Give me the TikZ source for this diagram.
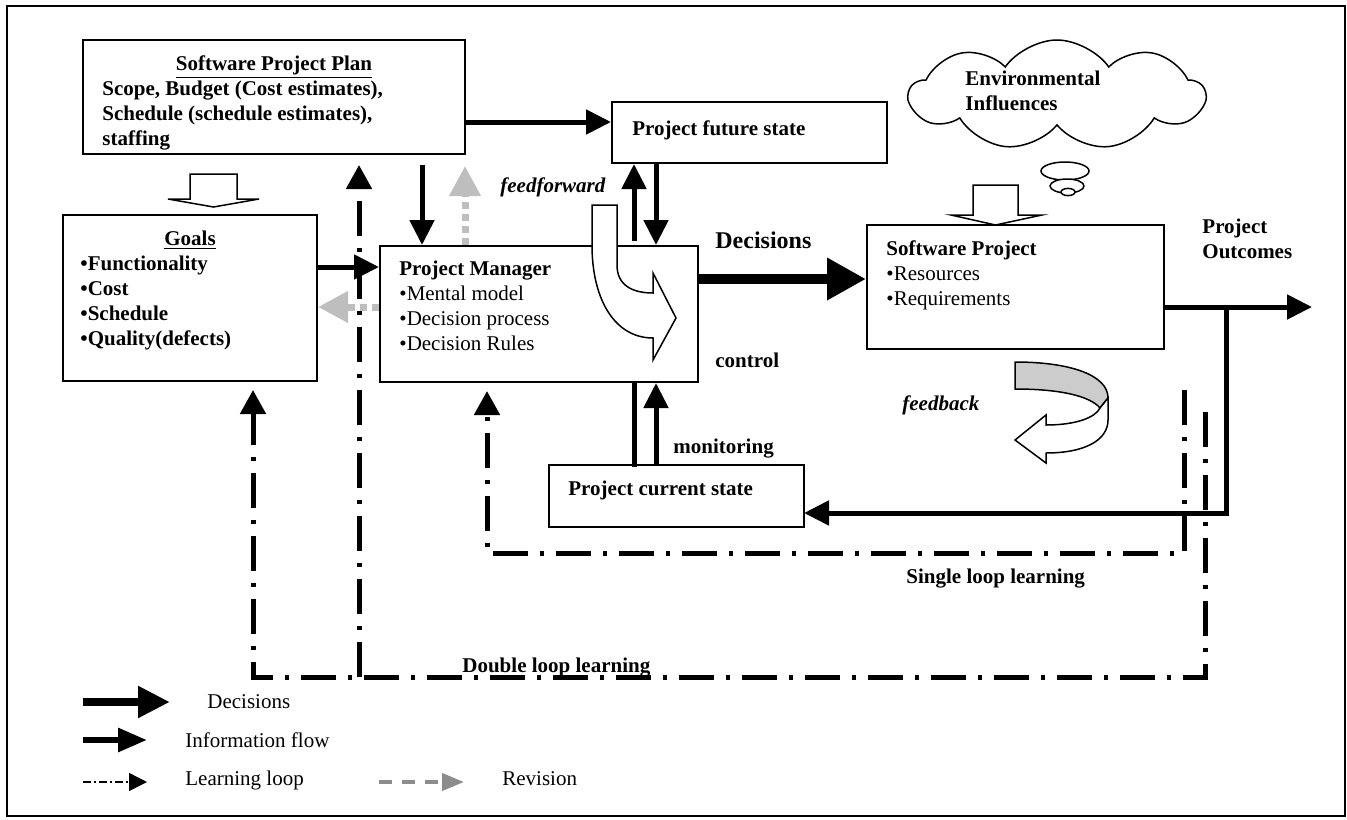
\documentclass[tikz,border=0pt]{standalone}
\usepackage{fontspec}
\setmainfont{Liberation Serif}
\usepackage{tikz}
\usetikzlibrary{arrows.meta,shapes.symbols,positioning}
\definecolor{revgray}{RGB}{190,190,190}
\definecolor{keygray}{RGB}{140,140,140}
\definecolor{foldgray}{RGB}{204,204,204}

\tikzset{
  box/.style={rectangle, draw, line width=1pt, inner sep=0pt},
  txt/.style={anchor=base west, inner sep=0pt, align=left},
  bold/.style={font=\fontsize{10.5}{12.5}\selectfont\bfseries},
  boldit/.style={font=\fontsize{10.5}{12.5}\selectfont\bfseries\itshape},
  info/.style={line width=2.5pt, -{Triangle[length=12.5pt,width=12pt]}},
  decide/.style={line width=5pt, -{Triangle[length=19.5pt,width=20pt]}},
  learn/.style={line width=2.5pt, dash pattern=on 17.5pt off 6pt on 2pt off 6pt, -{Triangle[length=12pt,width=12.5pt]}},
  revise/.style={line width=3.5pt, revgray, dash pattern=on 3.5pt off 2.5pt, -{Triangle[length=15pt,width=15pt]}},
  hollow/.style={draw, fill=white, line width=0.75pt, line join=miter},
}

\begin{document}
\begin{tikzpicture}[x=0.5pt, y=-0.5pt, every node/.style={font=\fontsize{10.5}{12.5}\selectfont}]
\useasboundingbox (0,0) rectangle (1347,819);
\draw[line width=1pt] (7,6) rectangle (1345,816);

% boxes
\node (plan) [box, minimum width=191pt, minimum height=57pt] at (274,97) {};
\node (goals) [box, minimum width=127pt, minimum height=83pt] at (190,298) {};
\node (pm) [box, minimum width=159pt, minimum height=68pt] at (539,314) {};
\node (future) [box, minimum width=137.5pt, minimum height=30.5pt] at (749.5,132.5) {};
\node (sw) [box, minimum width=148.5pt, minimum height=62pt] at (1015.5,287) {};
\node (cur) [box, minimum width=127.5pt, minimum height=31pt] at (676.5,496) {};
\node (cloud) [cloud, draw, line width=0.75pt, cloud puffs=9, cloud puff arc=110, minimum width=147.5pt, minimum height=55pt] at (1057,95) {};
\draw[line width=0.75pt, fill=white] (1065,171) ellipse [x radius=12pt, y radius=4.5pt];
\draw[line width=0.75pt, fill=white] (1067,186) ellipse [x radius=8.5pt, y radius=3.5pt];
\draw[line width=0.75pt, fill=white] (1068,192) ellipse [x radius=3.5pt, y radius=1.8pt];

% box texts (multi-line nodes sit on their last baseline)
\node (plantitle) [anchor=base, inner sep=0pt, bold] at (274,70) {\underline{Software Project Plan}};
\node (plantxt) [txt, bold] at (102,145) {Scope, Budget (Cost estimates),\\Schedule (schedule estimates),\\staffing};
\node (goalstitle) [anchor=base, inner sep=0pt, bold] at (190,245) {\underline{Goals}};
\node (goalslist) [txt, bold] at (80,345) {•Functionality\\•Cost\\•Schedule\\•Quality(defects)};
\node (pmtitle) [txt, bold] at (399,275) {Project Manager};
\node (pmlist) [txt] at (399,350) {•Mental model\\•Decision process\\•Decision Rules};
\node (futuretxt) [txt, bold] at (632,135) {Project future state};
\node (swtitle) [txt, bold] at (886,255) {Software Project};
\node (swlist) [txt] at (886,305) {•Resources\\•Requirements};
\node (curtxt) [txt, bold] at (568,495) {Project current state};
\node (envtxt) [txt, bold] at (965,110) {Environmental\\Influences};
\node (outtxt) [txt, bold] at (1202,258) {Project\\Outcomes};

% flow labels
\node (dectxt) [txt, font=\fontsize{12}{14}\selectfont\bfseries] at (715,248) {Decisions};
\node (fftxt) [txt, boldit] at (500,192) {feedforward};
\node (ctltxt) [txt, bold] at (715,367) {control};
\node (montxt) [txt, bold] at (673,453) {monitoring};
\node (fbtxt) [txt, boldit] at (902,410) {feedback};
\node (sltxt) [txt, bold] at (906,583) {Single loop learning};
\node (dltxt) [txt, bold] at (462,672) {Double loop learning};

% block arrows
\draw[hollow] (190,174) -- (237,174) -- (237,199) -- (259,199) -- (213.5,207) -- (168,199) -- (190,199) -- cycle;
\draw[hollow] (973,185) -- (1018,185) -- (1018,215) -- (1042,215) -- (995.5,225) -- (951,215) -- (973,215) -- cycle;

% information flow
\draw[info] ([yshift=-12.5pt]plan.east) -- ([yshift=5.25pt]future.west);
\draw[info] ([xshift=74pt,yshift=-5pt]plan.south) -- ([xshift=-58.5pt]pm.north);
\draw[info] ([yshift=15.5pt]goals.east) -- ([yshift=23.5pt]pm.west);
\draw[info] ([xshift=47.5pt,yshift=2pt]pm.north) -- ([xshift=-57.75pt]future.south);
\draw[info] ([xshift=-46.75pt]future.south) -- ([xshift=58.5pt]pm.north);
\draw[line width=2.5pt] ([xshift=47.5pt]pm.south) -- ([xshift=-21.25pt,yshift=-1.5pt]cur.north);
\draw[info] ([xshift=-10.25pt]cur.north) -- ([xshift=58.5pt]pm.south);
\draw[decide] ([yshift=17.5pt]pm.east) -- ([yshift=4pt]sw.west);

% revision
\draw[revise] ([xshift=-37pt]pm.north) -- ([xshift=95.5pt,yshift=-5.5pt]plan.south);
\draw[revise] ([yshift=3.5pt]pm.west) -- ([yshift=-4.5pt]goals.east);

% outcomes and measured state
\coordinate (outend) at (1312,307);
\coordinate (split) at (1226,307);
\coordinate (curin) at (804,513);
\draw[info] ([yshift=-10pt]sw.east) -- (outend);
\draw[info] (split) |- (curin);

% learning loops
\coordinate (sltop) at (1184,390);
\coordinate (slbot) at (487,553);
\draw[learn, shorten >=4pt] (sltop) |- (slbot) -- ([xshift=-26pt]pm.south);
\coordinate (dltop) at (1205,412);
\coordinate (dlbot) at (253,677);
\draw[learn, shorten >=4pt] (dltop) |- (dlbot) -- ([xshift=31.5pt]goals.south);
\coordinate (dlfork) at (359,677);
\draw[learn] (dlfork) -- ([xshift=42.5pt,yshift=-5pt]plan.south);

% feedforward bend
\draw[hollow] (592,205) -- (617,205) -- (617,265) .. controls (617,285) and (632,293) .. (653,293)
  -- (653,273) -- (676,318) -- (653,360) -- (653,338) .. controls (615,338) and (592,300) .. (592,245) -- cycle;

% feedback ribbon
\draw[line width=0.75pt, fill=foldgray] (1015,362) .. controls (1070,362) and (1108,375) .. (1108,398)
  -- (1100,408) .. controls (1090,396) and (1060,389) .. (1015,389) -- cycle;
\draw[hollow] (1108,398) -- (1108,420) .. controls (1108,440) and (1085,453) .. (1046,453)
  -- (1046,463) -- (1015,440) -- (1046,415) -- (1046,425) .. controls (1075,425) and (1095,418) .. (1100,408) -- cycle;

% legend
\coordinate (kdec) at (83,702);
\coordinate (kdecend) at (170,702);
\draw[line width=4pt, -{Triangle[length=16pt,width=15pt]}] (kdec) -- (kdecend);
\node (kdectxt) [txt] at (207,708) {Decisions};
\coordinate (kinf) at (83,740);
\coordinate (kinfend) at (147,740);
\draw[line width=3pt, -{Triangle[length=14.5pt,width=11.5pt]}] (kinf) -- (kinfend);
\node (kinftxt) [txt] at (185,747) {Information flow};
\coordinate (klrn) at (83,782);
\coordinate (klrnend) at (147,782);
\draw[line width=0.75pt, dash pattern=on 4pt off 1.5pt on 1pt off 1.5pt, -{Triangle[length=9pt,width=9pt]}] (klrn) -- (klrnend);
\node (klrntxt) [txt] at (185,785) {Learning loop};
\coordinate (krev) at (379,782);
\coordinate (krevend) at (464,782);
\draw[line width=2pt, keygray, dash pattern=on 6.5pt off 5pt, -{Triangle[length=11pt,width=8.5pt]}] (krev) -- (krevend);
\node (krevtxt) [txt] at (502,785) {Revision};
\end{tikzpicture}
\end{document}
